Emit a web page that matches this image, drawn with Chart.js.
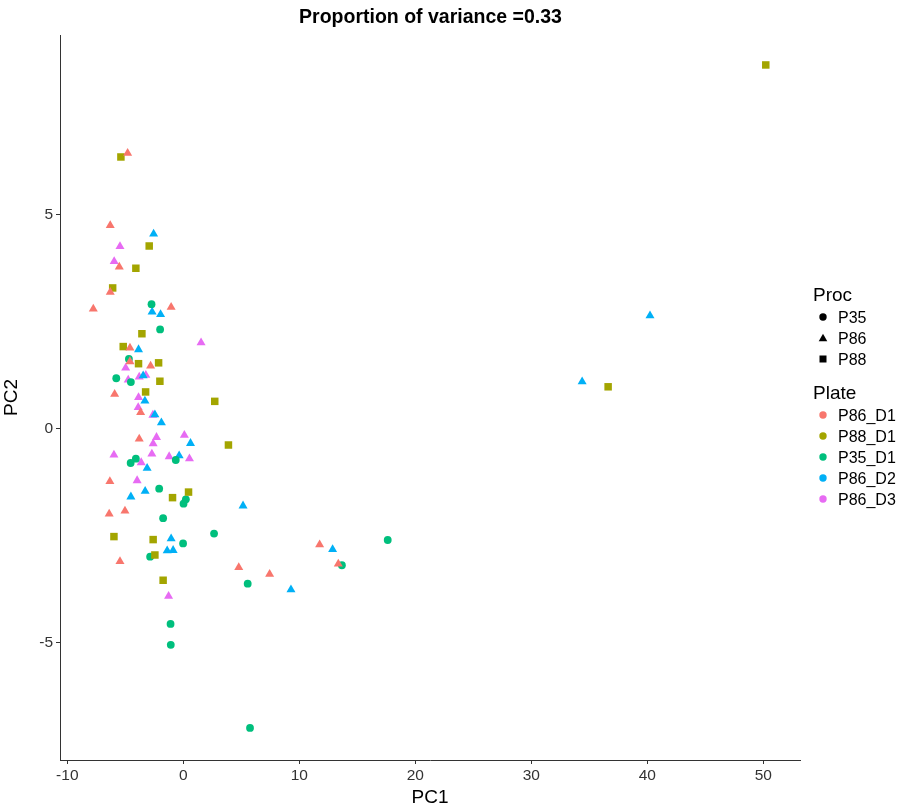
<!DOCTYPE html>
<html>
<head>
<meta charset="utf-8">
<script src="https://cdn.jsdelivr.net/npm/chart.js@4.4.1/dist/chart.umd.min.js"></script>
<style>
  body { margin: 0; background: #fff; font-family: "Liberation Sans", Arial, sans-serif; }
  #wrap { position: relative; width: 900px; height: 809px; }
  #title { position: absolute; left: 0; top: 4px; width: 861px; text-align: center;
           font-size: 19.5px; font-weight: bold; line-height: 24px; color: #000; }
  #legend { position: absolute; left: 812px; top: 283px; color: #000; }
  #legend .ttl { font-size: 19px; height: 24px; line-height: 24px; margin-left: 1px; }
  #legend .item { font-size: 16px; height: 21px; line-height: 21px; position: relative; padding-left: 26px; }
  #legend .item svg { position: absolute; left: 6px; top: 5px; }
  #legend .gap { height: 11px; }
</style>
</head>
<body>
<div id="wrap">
  <canvas id="pca" width="900" height="809"></canvas>
  <div id="title">Proportion of variance =0.33</div>
  <div id="legend"></div>
</div>
<script>
// axis ticks
const xTicks = [-10, 0, 10, 20, 30, 40, 50];
const yTicks = [-5, 0, 5];

// PC1 / PC2 coordinates per plate
const p86_d1 = [[-4.80,6.43],[-6.30,4.74],[-5.52,3.77],[-6.30,3.18],[-7.76,2.79],[-1.05,2.83],
  [-4.60,1.88],[-4.60,1.56],[-2.82,1.46],[-5.92,0.80],[-3.68,0.37],[-3.80,-0.25],[-6.33,-1.24],
  [-6.39,-2.00],[-5.03,-1.93],[-5.46,-3.11],[4.78,-3.25],[7.44,-3.41],[11.75,-2.72],[13.36,-3.17]];
const p88_d1 = [[-5.38,6.34],[50.21,8.49],[-2.94,4.26],[-4.09,3.74],[-6.09,3.28],[-3.57,2.21],
  [-5.18,1.91],[-3.86,1.51],[-2.13,1.53],[-2.02,1.10],[-3.25,0.85],[2.71,0.63],[3.89,-0.39],
  [-0.93,-1.62],[0.45,-1.49],[-5.98,-2.53],[-2.60,-2.60],[-2.45,-2.96],[-1.74,-3.55],[36.62,0.97]];
const p35_d1 = [[-2.74,2.90],[-2.00,2.31],[-4.69,1.62],[-5.78,1.17],[-4.52,1.08],[-4.09,-0.71],
  [-4.54,-0.81],[-0.65,-0.74],[-2.08,-1.41],[0.22,-1.66],[0.02,-1.76],[-1.74,-2.10],[2.65,-2.46],
  [-0.02,-2.69],[-2.86,-3.00],[5.55,-3.63],[17.62,-2.61],[13.67,-3.20],[-1.10,-4.57],[-1.08,-5.06],
  [5.75,-7.00]];
const p86_d2 = [[-2.56,4.54],[-2.69,2.72],[-1.96,2.66],[-3.86,1.84],[-3.46,1.23],[-3.31,0.64],
  [-2.45,0.32],[-1.89,0.13],[0.62,-0.35],[-0.36,-0.64],[-3.12,-0.93],[-3.29,-1.47],[-4.52,-1.60],
  [5.15,-1.81],[-1.05,-2.58],[-1.39,-2.86],[-0.88,-2.85],[12.87,-2.83],[9.28,-3.77],[34.38,1.09],
  [40.23,2.63]];
const p86_d3 = [[-5.46,4.25],[-5.96,3.90],[1.53,2.00],[-4.97,1.41],[-4.75,1.13],[-3.80,1.20],
  [-3.23,1.24],[-3.86,0.72],[-3.89,0.49],[-2.62,0.31],[-2.31,-0.21],[0.09,-0.16],[-2.60,-0.36],
  [-5.98,-0.62],[-3.63,-0.80],[-2.71,-0.60],[-1.22,-0.66],[0.53,-0.71],[-3.98,-1.22],[-1.27,-3.92]];

const procNames = ["P35", "P86", "P88"];
const plateNames = ["P86_D1", "P88_D1", "P35_D1", "P86_D2", "P86_D3"];
const plateColors = ["#F8766D", "#A3A500", "#00BF7D", "#00B0F6", "#E76BF3"];

const series = [
  { name: "P86_D1", pts: p86_d1, color: plateColors[0], shape: "triangle", r: 5.2 },
  { name: "P88_D1", pts: p88_d1, color: plateColors[1], shape: "rect", r: 5.3 },
  { name: "P35_D1", pts: p35_d1, color: plateColors[2], shape: "circle", r: 3.9 },
  { name: "P86_D2", pts: p86_d2, color: plateColors[3], shape: "triangle", r: 5.2 },
  { name: "P86_D3", pts: p86_d3, color: plateColors[4], shape: "triangle", r: 5.2 }
];

const axisColor = "#333333";
const font = "'Liberation Sans', Arial, sans-serif";

new Chart(document.getElementById("pca"), {
  type: "scatter",
  data: {
    datasets: series.map(s => ({
      label: s.name,
      data: s.pts.map(p => ({ x: p[0], y: p[1] })),
      backgroundColor: s.color,
      pointStyle: s.shape,
      pointRadius: s.r,
      pointHoverRadius: s.r,
      pointBorderWidth: 0,
      borderWidth: 0
    }))
  },
  options: {
    responsive: false,
    animation: false,
    layout: { padding: { left: 0, right: 100, top: 35, bottom: 0 } },
    plugins: {
      legend: { display: false },
      tooltip: { enabled: false }
    },
    scales: {
      x: {
        type: "linear",
        min: -10.63,
        max: 53.16,
        afterBuildTicks: sc => { sc.ticks = xTicks.map(v => ({ value: v })); },
        afterFit: sc => { sc.height = 49; },
        grid: { drawOnChartArea: false, drawTicks: true, tickLength: 4, color: axisColor },
        border: { display: true, color: axisColor, width: 1 },
        ticks: { color: "#333", font: { family: font, size: 15.5 }, padding: 2, maxRotation: 0 },
        title: { display: true, text: "PC1", color: "#000", font: { family: font, size: 19 }, padding: { top: 0, bottom: 0 } }
      },
      y: {
        type: "linear",
        min: -7.75,
        max: 9.19,
        afterBuildTicks: sc => { sc.ticks = yTicks.map(v => ({ value: v })); },
        afterFit: sc => { sc.width = 60; },
        grid: { drawOnChartArea: false, drawTicks: true, tickLength: 4, color: axisColor },
        border: { display: true, color: axisColor, width: 1 },
        ticks: { color: "#333", font: { family: font, size: 15.5 }, padding: 3 },
        title: { display: true, text: "PC2", color: "#000", font: { family: font, size: 19 }, padding: { top: 0, bottom: 0 } }
      }
    }
  }
});

// legend (html)
function shapeSvg(shape, color) {
  let inner;
  if (shape === "circle") inner = '<circle cx="5" cy="5" r="3.7" fill="' + color + '"/>';
  else if (shape === "triangle") inner = '<polygon points="5,0.8 9.3,8.3 0.7,8.3" fill="' + color + '"/>';
  else inner = '<rect x="1.5" y="1.5" width="7" height="7" fill="' + color + '"/>';
  return '<svg width="10" height="10">' + inner + '</svg>';
}
const procShapes = ["circle", "triangle", "rect"];
let html = '<div class="ttl">Proc</div>';
procNames.forEach((n, i) => { html += '<div class="item">' + shapeSvg(procShapes[i], "#000") + n + '</div>'; });
html += '<div class="gap"></div><div class="ttl">Plate</div>';
plateNames.forEach((n, i) => { html += '<div class="item">' + shapeSvg("circle", plateColors[i]) + n + '</div>'; });
document.getElementById("legend").innerHTML = html;
</script>
</body>
</html>
